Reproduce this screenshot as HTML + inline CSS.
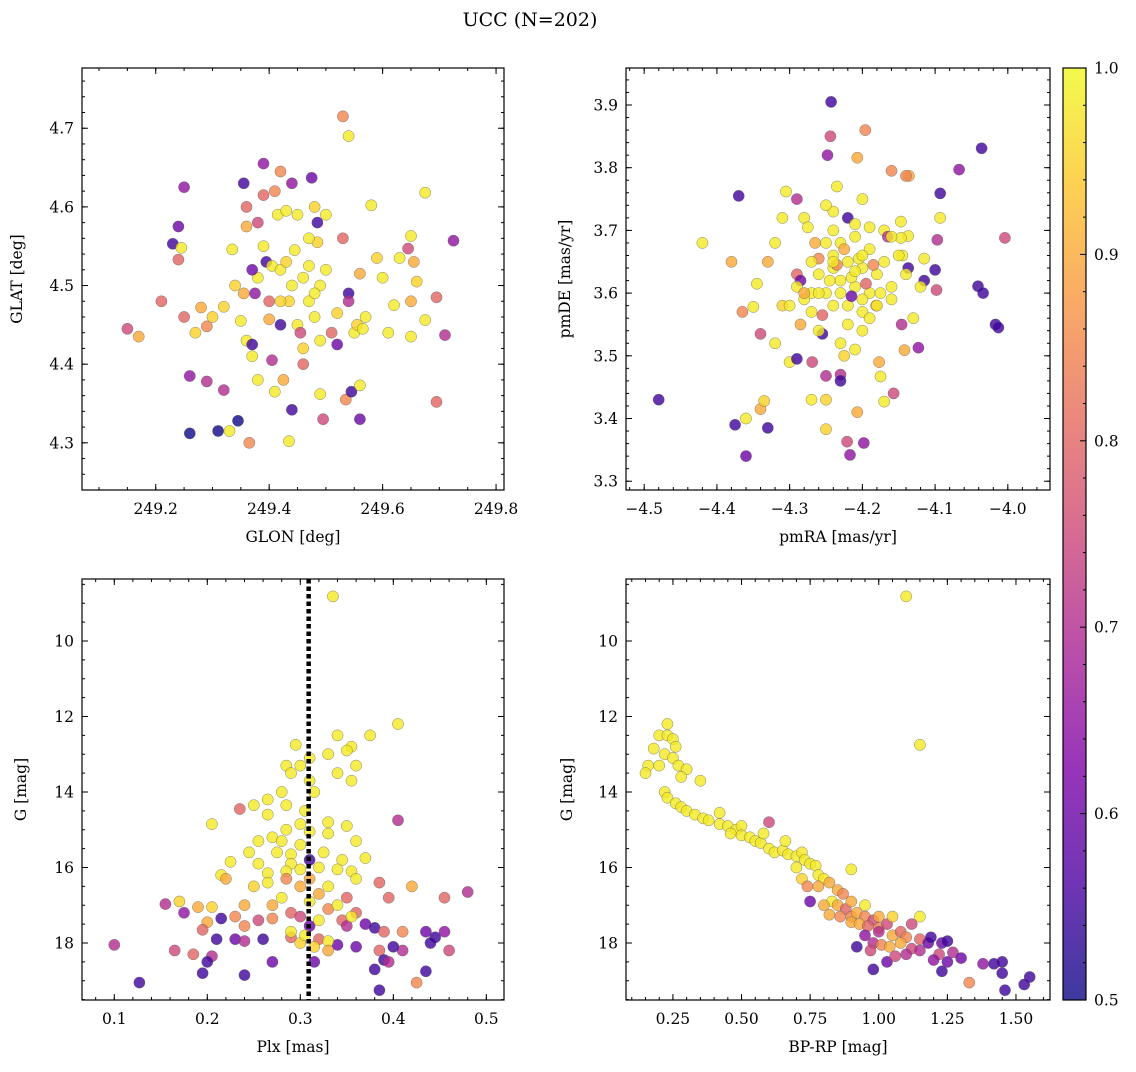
<!DOCTYPE html>
<html><head><meta charset="utf-8">
<style>
html,body{margin:0;padding:0;background:#fff;}
svg text{font-family:"DejaVu Serif","Liberation Serif",serif;fill:#000;}
</style></head>
<body>
<svg id="fig" width="1136" height="1067" viewBox="0 0 1136 1067" xmlns="http://www.w3.org/2000/svg">
<defs>
<linearGradient id="plasma" x1="0" y1="1" x2="0" y2="0">
<stop offset="0" stop-color="#0d0887"/><stop offset="0.125" stop-color="#4c02a1"/>
<stop offset="0.25" stop-color="#7e03a8"/><stop offset="0.375" stop-color="#a92395"/>
<stop offset="0.5" stop-color="#cc4778"/><stop offset="0.625" stop-color="#e56b5d"/>
<stop offset="0.75" stop-color="#f89540"/><stop offset="0.875" stop-color="#fdc527"/>
<stop offset="1" stop-color="#f0f921"/>
</linearGradient>
</defs>
<text x="530" y="26" font-size="19" text-anchor="middle">UCC (N=202)</text>
</svg>
<script>
// ---- Panel 1: GLON vs GLAT ----
const glon=[249.15,249.17,249.21,249.23,249.24,249.24,249.245,249.25,249.25,249.26,249.26,249.27,249.28,249.29,249.29,249.3,249.31,249.32,249.32,249.33,249.335,249.34,249.345,249.35,249.355,249.355,249.36,249.36,249.36,249.365,249.37,249.37,249.375,249.38,249.38,249.38,249.39,249.39,249.395,249.4,249.4,249.405,249.405,249.41,249.41,249.415,249.42,249.42,249.42,249.425,249.43,249.43,249.435,249.435,249.44,249.44,249.44,249.445,249.45,249.45,249.455,249.46,249.46,249.47,249.47,249.475,249.48,249.48,249.485,249.485,249.49,249.49,249.49,249.495,249.5,249.5,249.51,249.52,249.52,249.53,249.53,249.535,249.54,249.54,249.54,249.545,249.55,249.555,249.56,249.56,249.565,249.56,249.57,249.58,249.59,249.6,249.61,249.62,249.63,249.645,249.65,249.65,249.655,249.66,249.675,249.675,249.695,249.695,249.71,249.725,249.65,249.46,249.42,249.48,249.47,249.39,249.37];
const glat=[4.445,4.435,4.48,4.553,4.575,4.533,4.548,4.46,4.625,4.385,4.312,4.44,4.472,4.378,4.448,4.46,4.315,4.367,4.473,4.315,4.546,4.5,4.328,4.455,4.63,4.49,4.6,4.575,4.43,4.3,4.425,4.41,4.49,4.58,4.38,4.51,4.655,4.615,4.53,4.48,4.457,4.405,4.525,4.62,4.365,4.59,4.645,4.52,4.45,4.38,4.595,4.53,4.48,4.302,4.63,4.342,4.5,4.545,4.59,4.45,4.44,4.4,4.51,4.525,4.48,4.637,4.6,4.46,4.58,4.555,4.5,4.43,4.362,4.33,4.52,4.59,4.44,4.465,4.425,4.56,4.715,4.355,4.69,4.49,4.48,4.365,4.44,4.45,4.515,4.373,4.445,4.33,4.46,4.602,4.535,4.51,4.44,4.475,4.535,4.547,4.563,4.435,4.53,4.505,4.618,4.456,4.485,4.352,4.437,4.557,4.48,4.42,4.48,4.49,4.56,4.55,4.52];
const prob1=[.75,.9,.8,.55,.6,.8,.98,.8,.65,.65,.5,.95,.9,.7,.85,.95,.5,.7,.95,.98,.98,.95,.5,.98,.55,.9,.8,.9,.98,.85,.55,.98,.65,.75,.98,.98,.65,.8,.55,.8,.9,.7,.98,.85,.98,.98,.85,.98,.55,.9,.98,.95,.95,.98,.65,.55,.98,.98,.98,.98,.75,.8,.98,.98,.98,.6,.95,.98,.55,.95,.98,.98,.98,.75,.98,.98,.8,.95,.6,.8,.85,.85,.98,.55,.7,.55,.98,.95,.9,.98,.98,.6,.98,.98,.95,.98,.98,.98,.98,.75,.98,.98,.9,.95,.98,.98,.8,.8,.7,.65,.9,.95,.95,.98,.98,.98,.6];

// ---- Panel 2: pmRA vs pmDE ----
const pmra=[-4.48,-4.42,-4.38,-4.375,-4.37,-4.365,-4.36,-4.36,-4.35,-4.345,-4.34,-4.34,-4.335,-4.33,-4.33,-4.32,-4.31,-4.305,-4.3,-4.29,-4.29,-4.29,-4.285,-4.285,-4.28,-4.275,-4.27,-4.27,-4.265,-4.26,-4.255,-4.25,-4.25,-4.24,-4.235,-4.23,-4.225,-4.22,-4.067,-4.093,-4.093,-4.097,-4.1,-4.098,-4.115,-4.115,-4.136,-4.14,-4.137,-4.146,-4.123,-4.142,-4.137,-4.147,-4.147,-4.145,-4.041,-4.034,-4.017,-4.013,-4.004,-4.196,-4.207,-4.16,-4.157,-4.175,-4.177,-4.17,-4.207,-4.198,-4.221,-4.217,-4.23,-4.25,-4.269,-4.243,-4.244,-4.248,-4.181,-4.036,
-4.26,-4.25,-4.24,-4.23,-4.22,-4.21,-4.2,-4.19,-4.18,-4.22,-4.2,-4.24,-4.26,-4.23,-4.21,-4.19,-4.17,-4.16,-4.18,-4.25,-4.27,-4.28,-4.22,-4.2,-4.17,-4.15,-4.24,-4.21,-4.29,-4.3,-4.19,-4.16,-4.14,-4.23,-4.21,-4.27,-4.26,-4.24,-4.2,-4.25,-4.31,-4.32,-4.215,-4.205,-4.195,-4.185,-4.235,-4.245,-4.175,-4.165,-4.255,-4.215,-4.225,-4.2,-4.19,-4.28,-4.16,-4.13,-4.12,-4.23,-4.24,-4.21,-4.2];
const pmde=[3.43,3.68,3.65,3.39,3.755,3.57,3.4,3.34,3.578,3.615,3.535,3.415,3.428,3.385,3.65,3.52,3.58,3.762,3.49,3.495,3.75,3.63,3.62,3.55,3.72,3.705,3.43,3.6,3.68,3.655,3.535,3.383,3.43,3.64,3.77,3.47,3.5,3.72,3.797,3.759,3.72,3.685,3.637,3.605,3.655,3.62,3.787,3.787,3.64,3.55,3.513,3.509,3.691,3.688,3.714,3.66,3.611,3.6,3.55,3.545,3.688,3.86,3.816,3.795,3.44,3.467,3.49,3.427,3.41,3.361,3.363,3.342,3.46,3.468,3.49,3.905,3.85,3.82,3.58,3.831,
3.63,3.6,3.66,3.62,3.65,3.61,3.64,3.6,3.63,3.58,3.57,3.58,3.6,3.68,3.69,3.67,3.65,3.61,3.58,3.68,3.65,3.59,3.55,3.54,3.7,3.66,3.7,3.71,3.61,3.58,3.56,3.59,3.63,3.52,3.51,3.57,3.54,3.73,3.75,3.74,3.72,3.68,3.625,3.655,3.615,3.645,3.645,3.62,3.6,3.69,3.565,3.595,3.67,3.59,3.705,3.6,3.69,3.56,3.61,3.6,3.65,3.635,3.66];
const prob2=[.55,.98,.9,.55,.55,.85,.98,.6,.98,.98,.75,.9,.95,.55,.9,.98,.95,.98,.98,.55,.7,.8,.6,.9,.98,.98,.98,.98,.9,.85,.55,.95,.95,.98,.98,.7,.95,.55,.65,.55,.98,.7,.55,.75,.98,.55,.9,.85,.55,.7,.65,.9,.98,.98,.98,.98,.55,.55,.55,.55,.75,.85,.9,.85,.75,.98,.9,.98,.9,.65,.75,.65,.55,.7,.75,.55,.75,.65,.9,.55,
.98,.98,.98,.98,.98,.98,.98,.98,.98,.98,.98,.98,.98,.98,.98,.98,.98,.98,.98,.98,.98,.98,.98,.98,.98,.98,.98,.98,.98,.98,.98,.98,.98,.98,.98,.98,.98,.98,.98,.98,.98,.98,.98,.98,.8,.85,.85,.98,.98,.7,.8,.6,.9,.98,.98,.9,.98,.98,.98,.98,.98,.98,.98];

// ---- Panel 3: Plx vs G ----
const plx=[0.335,0.405,0.375,0.34,0.355,0.35,0.295,0.33,0.31,0.3,0.285,0.36,0.34,0.29,0.31,0.355,0.315,0.28,0.265,0.25,0.285,0.305,0.235,0.265,0.33,0.3,0.205,0.405,0.35,0.285,0.31,0.33,0.27,0.255,0.28,0.36,0.3,0.325,0.29,0.245,0.275,0.31,0.345,0.37,0.225,0.255,0.29,0.32,0.3,0.34,0.355,0.285,0.215,0.265,0.31,0.36,0.285,0.22,0.33,0.265,0.25,0.3,0.42,0.32,0.385,0.48,0.35,0.395,0.455,0.17,0.155,0.19,0.205,0.24,0.27,0.33,0.29,0.36,0.3,0.175,0.215,0.23,0.255,0.27,0.345,0.37,0.2,0.24,0.31,0.35,0.38,0.39,0.41,0.435,0.455,0.445,0.195,0.21,0.23,0.24,0.26,0.29,0.32,0.3,0.34,0.36,0.385,0.41,0.44,0.46,0.1,0.165,0.185,0.205,0.2,0.27,0.315,0.39,0.395,0.24,0.195,0.38,0.435,0.425,0.127,0.385,0.315,0.33,0.4,0.33,0.355,0.32,0.305,0.31,0.29,0.34,0.28];
const gmag3=[8.82,12.2,12.5,12.5,12.8,12.9,12.75,13.0,13.1,13.3,13.3,13.3,13.5,13.5,13.7,13.7,14.0,14.0,14.2,14.35,14.35,14.5,14.45,14.6,14.8,14.85,14.85,14.75,14.9,15.0,15.05,15.1,15.2,15.3,15.3,15.3,15.4,15.6,15.65,15.6,15.6,15.8,15.8,15.75,15.85,15.9,15.9,16.0,16.05,16.05,16.1,16.1,16.2,16.15,16.3,16.3,16.3,16.3,16.5,16.4,16.5,16.5,16.5,16.7,16.4,16.65,16.8,16.8,16.8,16.9,16.97,17.05,17.05,17.0,17.0,17.1,17.2,17.2,17.3,17.2,17.35,17.3,17.4,17.35,17.4,17.5,17.45,17.55,17.55,17.55,17.6,17.7,17.7,17.7,17.7,17.85,17.65,17.9,17.9,17.95,17.9,17.85,17.9,18.0,18.05,18.1,18.2,18.2,18.0,18.2,18.05,18.2,18.3,18.35,18.5,18.5,18.5,18.45,18.5,18.85,18.8,18.7,18.75,19.05,19.05,19.25,18.1,17.95,18.1,18.2,17.3,17.4,17.8,16.9,17.7,17.0,16.8];
const prob3=[.98,.98,.98,.98,.98,.98,.98,.98,.98,.98,.98,.98,.98,.98,.98,.98,.98,.98,.98,.98,.98,.98,.8,.98,.98,.98,.98,.7,.98,.98,.98,.98,.98,.98,.98,.98,.98,.98,.98,.98,.98,.55,.98,.98,.98,.98,.98,.98,.98,.98,.98,.98,.98,.98,.9,.98,.85,.9,.98,.98,.95,.9,.9,.9,.8,.7,.8,.8,.8,.95,.7,.9,.95,.9,.9,.85,.8,.8,.75,.65,.55,.85,.75,.85,.8,.6,.9,.85,.6,.7,.55,.8,.85,.6,.65,.55,.8,.55,.6,.7,.55,.8,.8,.95,.6,.6,.8,.7,.55,.75,.7,.75,.8,.7,.55,.6,.6,.55,.7,.55,.55,.55,.55,.85,.55,.55,.95,.98,.55,.9,.98,.98,.98,.98,.98,.98,.98];

// ---- Panel 4: BP-RP vs G ----
const bprp=[1.1,1.15,0.2,0.23,0.23,0.25,0.26,0.18,0.22,0.25,0.27,0.16,0.2,0.15,0.3,0.28,0.35,0.22,0.23,0.26,0.28,0.3,0.33,0.36,0.38,0.42,0.42,0.45,0.48,0.5,0.46,0.5,0.53,0.55,0.57,0.58,0.6,0.6,0.62,0.65,0.67,0.66,0.7,0.72,0.73,0.75,0.77,0.7,0.78,0.8,0.72,0.74,0.78,0.82,0.85,0.87,0.9,0.83,0.75,0.8,0.85,0.88,0.9,0.92,0.95,0.98,0.82,0.86,0.9,0.93,0.96,1.0,1.03,1.05,1.0,1.05,1.08,1.12,1.15,1.1,1.15,0.95,0.98,1.01,1.04,1.08,1.12,1.15,1.18,1.19,1.23,1.25,1.22,1.27,1.2,1.23,1.25,1.3,1.33,1.38,1.42,1.45,1.45,1.46,1.55,1.53,0.92,0.98,1.03,0.97,1.06,0.9,1.0,0.95,1.1];
const gmag4=[8.82,12.75,12.5,12.2,12.5,12.6,12.8,12.85,13.0,13.1,13.3,13.3,13.3,13.5,13.4,13.6,13.7,14.0,14.15,14.3,14.4,14.5,14.6,14.7,14.75,14.55,14.85,14.9,15.0,14.9,15.1,15.15,15.2,15.3,15.35,15.1,14.8,15.5,15.6,15.55,15.65,15.3,15.7,15.6,15.8,15.9,15.95,16.0,16.2,16.3,16.3,16.5,16.5,16.4,16.6,16.7,16.05,16.9,16.9,17.0,17.0,17.1,17.3,17.2,17.3,17.4,17.25,17.3,17.45,17.5,17.55,17.6,17.5,17.3,17.7,17.8,17.7,17.5,17.3,17.85,17.9,17.8,18.0,18.05,18.1,18.0,18.15,18.2,18.0,17.85,18.0,17.95,18.3,18.25,18.45,18.75,18.5,18.4,19.05,18.55,18.55,18.5,18.8,19.25,18.9,19.1,18.1,18.7,18.5,18.2,18.35,16.9,17.3,17.0,18.3];
const prob4=[.98,.98,.98,.98,.98,.98,.98,.98,.98,.98,.98,.98,.98,.98,.98,.98,.98,.98,.98,.98,.98,.98,.98,.98,.98,.98,.98,.98,.98,.98,.98,.98,.98,.98,.98,.98,.75,.98,.98,.98,.98,.98,.98,.98,.98,.98,.98,.98,.98,.98,.95,.85,.9,.9,.9,.85,.98,.98,.6,.9,.9,.8,.85,.9,.85,.75,.9,.85,.9,.9,.8,.85,.75,.95,.7,.9,.8,.75,.98,.85,.8,.65,.7,.85,.9,.9,.75,.7,.6,.55,.6,.55,.75,.7,.65,.55,.6,.6,.85,.65,.55,.55,.55,.55,.55,.55,.55,.55,.6,.75,.75,.9,.9,.98,.7];

const cbTicks=["0.5","0.6","0.7","0.8","0.9","1.0"];

const NS="http://www.w3.org/2000/svg";
const svg=document.getElementById('fig');
function mk(tag,attrs,parent){const e=document.createElementNS(NS,tag);for(const k in attrs)e.setAttribute(k,attrs[k]);(parent||svg).appendChild(e);return e;}

const stops=[[0,[13,8,135]],[.125,[76,2,161]],[.25,[126,3,168]],[.375,[169,35,149]],[.5,[204,71,120]],[.625,[229,107,93]],[.75,[248,149,64]],[.875,[253,197,39]],[1,[240,249,33]]];
function cmap(p){let t=Math.max(0,Math.min(1,(p-0.5)/0.5));for(let i=1;i<stops.length;i++){if(t<=stops[i][0]){const a=stops[i-1],b=stops[i];const f=(t-a[0])/(b[0]-a[0]);const c=a[1].map((v,j)=>Math.round(v+(b[1][j]-v)*f));return `rgb(${c[0]},${c[1]},${c[2]})`;}}return 'rgb(240,249,33)';}

function fmt(v,d){const s=Math.abs(v).toFixed(d);return (v< -1e-9?'\u2212':'')+s;}

function panel(o){
  const {L,T,R,B,xmin,xmax,ymin,ymax,invertY}=o;
  const g=mk('g',{});
  
  
  const sx=v=>L+(v-xmin)/(xmax-xmin)*(R-L);
  const sy=v=>invertY? T+(v-ymin)/(ymax-ymin)*(B-T) : B-(v-ymin)/(ymax-ymin)*(B-T);
  const pg=mk('g',{},g);
  
  
  for(let i=0;i<o.xs.length;i++){
    const c=mk('circle',{cx:sx(o.xs[i]).toFixed(1),cy:sy(o.ys[i]).toFixed(1),r:5.6,fill:cmap(o.ps[i]),'fill-opacity':0.8,stroke:'#555','stroke-opacity':0.7,'stroke-width':0.5},pg);
    
    
  }
  if(o.vline!==undefined){
    const l=mk('line',{x1:sx(o.vline),x2:sx(o.vline),y1:T,y2:B,stroke:'#000','stroke-width':4.5,'stroke-dasharray':'4.5,3'},g);
    
    
  }
  const fr=mk('rect',{x:L,y:T,width:R-L,height:B-T,fill:'none',stroke:'#000','stroke-width':1.2},g);
  
  
  const tg=mk('g',{stroke:'#000','stroke-width':1},g);
  const eps=1e-9;
  function ticks(lo,hi,step){const a=[];let s=Math.ceil(lo/step-eps);for(let k=s;k*step<=hi+eps;k++)a.push(k*step);return a;}
  ticks(xmin,xmax,o.xminor).forEach(v=>{const x=sx(v);mk('line',{x1:x,x2:x,y1:B,y2:B-3},tg);mk('line',{x1:x,x2:x,y1:T,y2:T+3},tg);});
  ticks(ymin,ymax,o.yminor).forEach(v=>{const y=sy(v);mk('line',{x1:L,x2:L+3,y1:y,y2:y},tg);mk('line',{x1:R,x2:R-3,y1:y,y2:y},tg);});
  ticks(xmin,xmax,o.xmajor).forEach(v=>{const x=sx(v);mk('line',{x1:x,x2:x,y1:B,y2:B-6},tg);mk('line',{x1:x,x2:x,y1:T,y2:T+6},tg);
    const t=mk('text',{x:x,y:B+24,'font-size':15.5,'text-anchor':'middle'},g);t.textContent=fmt(v,o.xdec);
    });
  ticks(ymin,ymax,o.ymajor).forEach(v=>{const y=sy(v);mk('line',{x1:L,x2:L+6,y1:y,y2:y},tg);mk('line',{x1:R,x2:R-6,y1:y,y2:y},tg);
    const t=mk('text',{x:L-8,y:y+5.5,'font-size':15.5,'text-anchor':'end'},g);t.textContent=fmt(v,o.ydec);
    });
  const xl=mk('text',{x:(L+R)/2,y:B+52,'font-size':15.5,'text-anchor':'middle'},g);xl.textContent=o.xlabel;
  
  const yx=o.ylx;
  const yl=mk('text',{x:yx,y:(T+B)/2,'font-size':15.5,'text-anchor':'middle',transform:`rotate(-90 ${yx} ${(T+B)/2})`},g);yl.textContent=o.ylabel;
  
}

panel({name:'glon-glat-panel',L:82,T:68,R:504,B:490,xmin:249.07,xmax:249.814,ymin:4.24,ymax:4.7766,xs:glon,ys:glat,ps:prob1,xmajor:0.2,xminor:0.05,ymajor:0.1,yminor:0.02,xdec:1,ydec:1,xlabel:'GLON [deg]',ylabel:'GLAT [deg]',ylx:22});
panel({name:'pm-panel',L:626,T:68,R:1050,B:490,xmin:-4.525,xmax:-3.942,ymin:3.286,ymax:3.959,xs:pmra,ys:pmde,ps:prob2,xmajor:0.1,xminor:0.02,ymajor:0.1,yminor:0.02,xdec:1,ydec:1,xlabel:'pmRA [mas/yr]',ylabel:'pmDE [mas/yr]',ylx:570});
panel({name:'plx-g-panel',L:82,T:579,R:504,B:1000,xmin:0.0653,xmax:0.519,ymin:8.358,ymax:19.51,invertY:true,xs:plx,ys:gmag3,ps:prob3,xmajor:0.1,xminor:0.02,ymajor:2,yminor:0.5,xdec:1,ydec:0,xlabel:'Plx [mas]',ylabel:'G [mag]',ylx:26,vline:0.309});
panel({name:'cmd-panel',L:626,T:579,R:1050,B:1000,xmin:0.079,xmax:1.624,ymin:8.358,ymax:19.51,invertY:true,xs:bprp,ys:gmag4,ps:prob4,xmajor:0.25,xminor:0.05,ymajor:2,yminor:0.5,xdec:2,ydec:0,xlabel:'BP-RP [mag]',ylabel:'G [mag]',ylx:572});

(function(){
  const L=1063,R=1086,T=68,B=1000;
  const g=mk('g',{});
  
  
  mk('rect',{x:L,y:T,width:R-L,height:B-T,fill:'url(#plasma)','fill-opacity':0.8},g);
  mk('rect',{x:L,y:T,width:R-L,height:B-T,fill:'none',stroke:'#000','stroke-width':1.2},g);
  const sy=v=>B-(v-0.5)/0.5*(B-T);
  for(let k=25;k<=50;k++){const v=k/50;const y=sy(v);const major=(k%5===0);
    mk('line',{x1:R,x2:R-(major?6:3),y1:y,y2:y,stroke:'#000','stroke-width':1},g);}
  cbTicks.forEach(s=>{const y=sy(parseFloat(s));
    const t=mk('text',{x:R+8,y:y+5.5,'font-size':15.5},g);t.textContent=s;
    });
})();
</script>
</body></html>
